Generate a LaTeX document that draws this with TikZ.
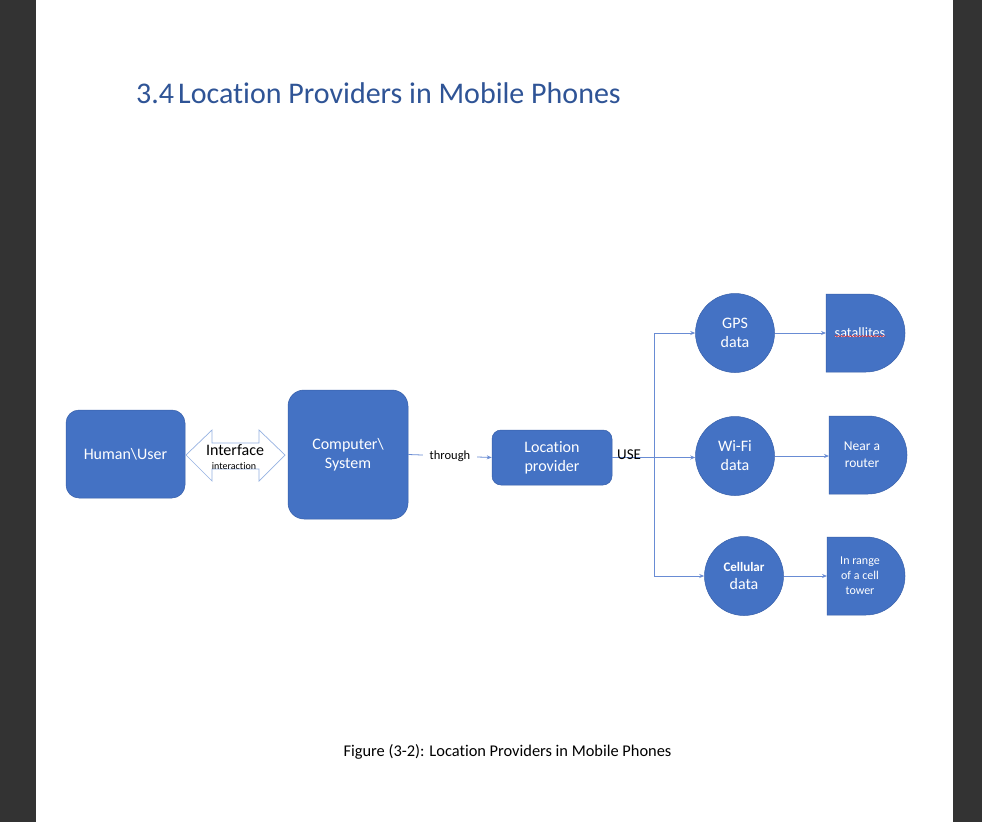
\documentclass[tikz,border=0pt]{standalone}
\usepackage{fontspec}
\setmainfont{Carlito}[Ligatures=NoCommon]
\usetikzlibrary{arrows.meta,decorations.pathmorphing}

\definecolor{pagegray}{RGB}{51,51,51}
\definecolor{titleblue}{RGB}{47,84,150}
\definecolor{boxblue}{RGB}{68,114,196}
\definecolor{boxedge}{RGB}{55,95,170}
\definecolor{linkblue}{RGB}{105,140,212}
\definecolor{arrowedge}{RGB}{150,178,226}
\definecolor{spellred}{RGB}{220,40,40}

\tikzset{
  box/.style={draw=boxedge, line width=0.5pt, fill=boxblue, text=white,
    inner sep=0pt, align=center, font=\fontsize{16}{19.5}\selectfont},
  blob/.style={circle, draw=boxedge, line width=0.5pt, fill=boxblue,
    text=white, inner sep=0pt, minimum size=79pt, align=center,
    font=\fontsize{16}{19}\selectfont},
  dshape/.style={draw=boxedge, line width=0.5pt, fill=boxblue},
  dtext/.style={text=white, align=center, inner sep=0pt},
  conn/.style={draw=linkblue, line width=0.8pt,
    -{Stealth[length=5pt,width=4pt]}},
  plainlink/.style={draw=linkblue, line width=0.8pt},
  lbl/.style={inner sep=0pt, text=black}
}

\begin{document}
\begin{tikzpicture}[x=1pt,y=-1pt]
  % page and surrounding viewer background
  \fill[pagegray] (0,0) rectangle (982,822);
  \fill[white] (36,0) rectangle (953,822);
  \useasboundingbox (0,0) rectangle (982,822);

  % heading
  \node[anchor=base west, inner sep=0pt, text=titleblue,
        font=\fontsize{30}{36}\selectfont] (title) at (136,103)
        {3.4\hspace{4pt}Location Providers in Mobile Phones};

  % left part of the chain
  \node[box, rounded corners=13pt, minimum width=119pt, minimum height=88pt]
    (human) at (125.5,454) {Human\textbackslash User};

  % interface double arrow
  \draw[draw=arrowedge, line width=0.7pt, fill=white]
    (186,455) -- (212,430) -- (212,443) -- (259,443) -- (259,430)
    -- (285,455) -- (259,481) -- (259,469) -- (212,469) -- (212,481) -- cycle;
  \node[lbl, font=\fontsize{16}{19}\selectfont] (iface) at (235,450) {Interface};
  \node[lbl, font=\fontsize{10}{12}\selectfont] (iact) at (234,466) {interaction};

  \node[box, rounded corners=16pt, minimum width=120pt, minimum height=129pt]
    (computer) at (348,454.5) {Computer\textbackslash\\System};

  \node[box, rounded corners=9pt, minimum width=120pt, minimum height=55pt,
    font=\fontsize{16}{19}\selectfont]
    (location) at (552,457.5) {Location\\provider};

  \draw[conn] (computer.east) -- node[fill=white, inner xsep=7pt, inner ysep=2pt,
    text=black, font=\fontsize{12.5}{15}\selectfont] {through} (location.west);

  % data sources
  \node[blob] (gps) at (735,333) {GPS\\data};
  \node[blob] (wifi) at (735,456) {Wi-Fi\\data};
  \node[blob, font=\fontsize{16}{18}\selectfont] (cell) at (744,576)
    {{\fontsize{13}{15}\selectfont\bfseries Cellular}\\data};

  % branching connectors from the location provider
  \coordinate (trunk) at (654,457.5);
  \draw[plainlink] (location.east) -- (trunk);
  \draw[conn] (trunk) |- (gps.west);
  \draw[conn] (trunk) -- (trunk -| wifi.west);
  \draw[conn] (trunk) |- (cell.west);
  \node[lbl, anchor=base west, font=\fontsize{15}{17}\selectfont] (use)
    at (617,459) {USE};

  % D-shaped result boxes (flat left side, round right side)
  \coordinate (satL) at (826,333);
  \coordinate (routerL) at (829,455);
  \coordinate (towerL) at (827,576);

  \draw[dshape] (826,294) -- (866,294) arc[start angle=-90, end angle=90,
    radius=39] -- (826,372) -- cycle;
  \node[dtext, font=\fontsize{14.2}{17}\selectfont] (sat) at (860,333) {satallites};
  \draw[spellred, line width=0.5pt, decorate,
    decoration={snake, amplitude=0.7pt, segment length=3pt}]
    ([yshift=2pt]sat.south west) -- ([yshift=2pt]sat.south east);

  \draw[dshape] (829,416) -- (868,416) arc[start angle=-90, end angle=90,
    radius=39] -- (829,494) -- cycle;
  \node[dtext, font=\fontsize{13.5}{17}\selectfont] (router) at (862,455)
    {Near a\\router};

  \draw[dshape] (827,537) -- (866,537) arc[start angle=-90, end angle=90,
    radius=39] -- (827,615) -- cycle;
  \node[dtext, font=\fontsize{12}{15}\selectfont] (tower) at (860,576)
    {In range\\of a cell\\tower};

  \draw[conn] (gps.east) -- (satL);
  \draw[conn] (wifi.east) -- (wifi.east -| routerL);
  \draw[conn] (cell.east) -- (towerL);

  % caption
  \node[lbl, font=\fontsize{16.4}{19}\selectfont] (caption) at (507.5,752)
    {Figure (3-2): Location Providers in Mobile Phones};
\end{tikzpicture}
\end{document}
